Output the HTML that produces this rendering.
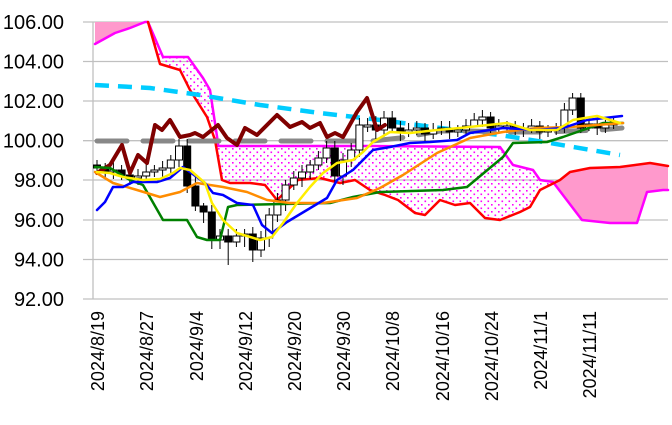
<!DOCTYPE html>
<html><head><meta charset="utf-8"><style>
html,body{margin:0;padding:0;background:#fff;}
svg{display:block;}
text{font-family:"Liberation Sans",sans-serif;}
</style></head><body>
<svg width="672" height="425" viewBox="0 0 672 425" xmlns="http://www.w3.org/2000/svg">
<defs>
<pattern id="dots" width="7" height="7" patternUnits="userSpaceOnUse">
<rect x="1" y="1" width="1.6" height="1.6" fill="#ff00ff"/><rect x="4.5" y="4.5" width="1.6" height="1.6" fill="#ff00ff"/>
</pattern>
</defs>
<g stroke="#c0c0c0" stroke-width="1.3">
<line x1="83" y1="22" x2="668" y2="22"/><line x1="83" y1="61.5" x2="668" y2="61.5"/>
<line x1="83" y1="101" x2="668" y2="101"/><line x1="83" y1="140.7" x2="668" y2="140.7"/>
<line x1="83" y1="180" x2="668" y2="180"/><line x1="83" y1="220" x2="668" y2="220"/>
<line x1="83" y1="259.5" x2="668" y2="259.5"/><line x1="83" y1="299" x2="668" y2="299"/>
<line x1="93" y1="22" x2="93" y2="299"/>
</g>
<g font-size="20" text-anchor="end" fill="#000">
<text x="64" y="29">106.00</text><text x="64" y="68.5">104.00</text><text x="64" y="108">102.00</text>
<text x="64" y="147.7">100.00</text><text x="64" y="187">98.00</text><text x="64" y="227">96.00</text>
<text x="64" y="266.5">94.00</text><text x="64" y="306">92.00</text>
</g>
<g font-size="18" text-anchor="end" fill="#000">
<text transform="translate(104,311) rotate(-90)">2024/8/19</text>
<text transform="translate(153,311) rotate(-90)">2024/8/27</text>
<text transform="translate(203,311) rotate(-90)">2024/9/4</text>
<text transform="translate(252,311) rotate(-90)">2024/9/12</text>
<text transform="translate(301,311) rotate(-90)">2024/9/20</text>
<text transform="translate(350,311) rotate(-90)">2024/9/30</text>
<text transform="translate(399,311) rotate(-90)">2024/10/8</text>
<text transform="translate(449,311) rotate(-90)">2024/10/16</text>
<text transform="translate(498,311) rotate(-90)">2024/10/24</text>
<text transform="translate(547,311) rotate(-90)">2024/11/1</text>
<text transform="translate(596,311) rotate(-90)">2024/11/11</text>
</g>
<polygon fill="#ff99cc" points="95,22 145,22 130,28 115,33 95,44"/>
<polygon fill="url(#dots)" points="148,22 163,57 188,57 203,78 210,90 218,143 218,146 372,146 500,147 513,165 533,170 540,180 553,182 540,190 530,207 520,212 500,220 485,218 470,203 455,205 440,200 425,215 415,213 398,200 385,195 370,190 355,180 340,183 320,178 298,180 277,200 265,185 250,183 230,183 222,180 215,140 207,117 190,90 180,70 160,64"/>
<polygon fill="#ff99cc" points="553,182 560,180 570,172 590,168 620,167 650,163 668,166 668,190 663,190 647,192 637,223 610,223 582,220"/>
<g fill="none" stroke-linejoin="round" stroke-linecap="round">
<polyline stroke="#ff00ff" stroke-width="2.5" points="95,44 115,33 130,28 145,22 148,22 163,57 188,57 203,78 210,90 218,143 218,146 372,146 500,147 513,165 533,170 540,180 553,182 582,220 610,223 637,223 647,192 663,190 668,190"/>
<polyline stroke="#ff0000" stroke-width="2.5" points="148,22 160,64 180,70 190,90 207,117 215,140 222,180 230,183 250,183 265,185 277,200 298,180 320,178 340,183 355,180 370,190 385,195 398,200 415,213 425,215 440,200 455,205 470,203 485,218 500,220 520,212 530,207 540,190 560,180 570,172 590,168 620,167 650,163 668,166"/>
<polyline stroke="#00ccff" stroke-width="4.5" stroke-dasharray="14 9" stroke-linecap="butt" points="95,85 150,88 200,95 260,105 320,113 380,120 440,128 500,135 550,143 620,155"/>
<polyline stroke="#888888" stroke-width="5" stroke-dasharray="30 16" points="97,141 372,141 400,138 440,131 470,131 500,132 540,132 600,130 622,128"/>
</g>
<path stroke="#000" stroke-width="1" fill="none" d="M97,160V173M105.2,163V177M113.4,161V179M121.6,165V180M129.8,168V185M138,169V185M146.2,163V183M154.4,165V177M162.6,161V177M170.8,155V175M179,139V167M187.2,139V193M195.4,177V211M203.6,203V223M211.8,205V249M220,229V249M228.2,229V265M236.4,229V247M244.6,229V247M252.8,227V262M261,231V257M269.2,208V247M277.4,193V222M285.6,180V211M293.8,171V190M302,165V187M310.2,160V179M318.4,151V170M326.6,141V163M334.8,141V183M343,153V185M351.2,143V167M359.4,118V157M367.6,118V132M375.8,116V139M384,111V137M392.2,111V133M400.4,121V141M408.6,123V137M416.8,121V135M425,123V141M433.2,123V139M441.4,121V135M449.6,121V139M457.8,125V137M466,119V135M474.2,113V127M482.4,110V127M490.6,112V135M498.8,119V133M507,121V133M515.2,121V135M523.4,123V137M531.6,119V133M539.8,121V139M548,125V137M556.2,123V135M564.4,103V133M572.6,93V115M580.8,93V133M589,119V131M597.2,119V135M605.4,120V133M613.6,117V129"/>
<g stroke="#000" stroke-width="1" fill="#fff">
<rect x="109.9" y="170" width="7" height="2"/><rect x="134.5" y="176" width="7" height="2"/><rect x="142.7" y="172" width="7" height="4"/><rect x="150.9" y="170" width="7" height="2"/><rect x="159.1" y="168" width="7" height="2"/><rect x="167.3" y="160" width="7" height="8"/><rect x="175.5" y="146" width="7" height="14"/>
<rect x="216.5" y="236" width="7" height="4"/><rect x="232.9" y="236" width="7" height="6"/><rect x="241.1" y="234" width="7" height="2"/><rect x="257.5" y="238" width="7" height="12"/><rect x="265.7" y="215" width="7" height="23"/><rect x="273.9" y="200" width="7" height="15"/><rect x="282.1" y="185" width="7" height="15"/><rect x="290.3" y="178" width="7" height="7"/><rect x="298.5" y="172" width="7" height="6"/><rect x="306.7" y="165" width="7" height="7"/><rect x="314.9" y="158" width="7" height="7"/><rect x="323.1" y="148" width="7" height="10"/>
<rect x="339.5" y="160" width="7" height="16"/><rect x="347.7" y="150" width="7" height="10"/><rect x="355.9" y="125" width="7" height="25"/><rect x="364.1" y="125" width="7" height="2"/><rect x="380.5" y="118" width="7" height="12"/>
<rect x="405.1" y="130" width="7" height="2"/><rect x="413.3" y="128" width="7" height="2"/><rect x="429.7" y="130" width="7" height="4"/><rect x="437.9" y="128" width="7" height="2"/><rect x="454.3" y="130" width="7" height="2"/><rect x="462.5" y="126" width="7" height="4"/><rect x="470.7" y="120" width="7" height="6"/><rect x="478.9" y="117" width="7" height="3"/>
<rect x="495.3" y="126" width="7" height="2"/><rect x="503.5" y="126" width="7" height="2"/><rect x="528.1" y="126" width="7" height="4"/><rect x="544.5" y="130" width="7" height="2"/><rect x="552.7" y="128" width="7" height="2"/><rect x="560.9" y="110" width="7" height="18"/><rect x="569.1" y="98" width="7" height="12"/><rect x="585.5" y="124" width="7" height="4"/><rect x="601.9" y="125" width="7" height="3"/><rect x="610.1" y="122" width="7" height="3"/>
</g>
<g stroke="#000" stroke-width="1" fill="#000">
<rect x="93.5" y="165" width="7" height="3"/><rect x="101.7" y="168" width="7" height="4"/><rect x="118.1" y="170" width="7" height="5"/><rect x="126.3" y="175" width="7" height="3"/>
<rect x="183.7" y="146" width="7" height="40"/><rect x="191.9" y="186" width="7" height="20"/><rect x="200.1" y="206" width="7" height="6"/><rect x="208.3" y="212" width="7" height="28"/><rect x="224.7" y="236" width="7" height="6"/><rect x="249.3" y="234" width="7" height="16"/>
<rect x="331.3" y="148" width="7" height="28"/><rect x="372.3" y="125" width="7" height="5"/><rect x="388.7" y="118" width="7" height="10"/><rect x="396.9" y="128" width="7" height="4"/><rect x="421.5" y="128" width="7" height="6"/><rect x="446.1" y="128" width="7" height="4"/>
<rect x="487.1" y="117" width="7" height="11"/><rect x="511.7" y="126" width="7" height="2"/><rect x="519.9" y="128" width="7" height="2"/><rect x="536.3" y="126" width="7" height="6"/><rect x="577.3" y="98" width="7" height="30"/><rect x="593.7" y="124" width="7" height="4"/>
</g>
<g fill="none" stroke-linejoin="round" stroke-linecap="round">
<polyline stroke="#800000" stroke-width="4" points="97,173 110,165 122,145 130,173 138,155 147,163 155,125 162,130 170,120 180,137 190,135 195,133 203,137 218,125 227,138 237,145 245,128 257,135 277,115 290,127 302,122 310,128 320,123 327,137 335,133 343,137 357,112 367,98 377,130 385,125"/>
<polyline stroke="#008000" stroke-width="2.5" points="95,167 110,168 130,180 143,185 163,220 187,220 197,237 207,240 220,240 228,207 237,205 330,203 353,197 380,192 443,190 467,187 503,157 513,143 547,142 563,137 603,123 623,123"/>
<polyline stroke="#ff8c00" stroke-width="2.5" points="95,172 113,183 137,190 160,197 180,192 197,183 223,187 247,192 267,200 290,203 323,203 357,198 380,188 403,175 437,153 470,138 503,132 537,128 570,127 623,123"/>
<polyline stroke="#0000ff" stroke-width="2.5" points="97,210 105,202 113,187 123,187 133,182 157,182 170,178 183,167 205,183 213,193 223,195 237,203 253,205 262,225 272,233 287,222 307,210 327,198 337,180 353,170 363,160 373,150 390,147 410,143 430,142 457,140 470,133 503,128 537,130 563,128 587,120 622,116"/>
<polyline stroke="#ffee00" stroke-width="2.5" points="97,172 110,173 123,177 143,180 160,179 173,173 180,168 190,170 205,183 212,203 223,220 237,233 260,240 272,237 283,223 297,203 310,187 323,173 337,163 353,160 363,152 373,142 390,132 410,133 437,130 460,128 507,123 530,130 557,130 573,120 597,116 620,123"/>
</g>
</svg>
</body></html>
